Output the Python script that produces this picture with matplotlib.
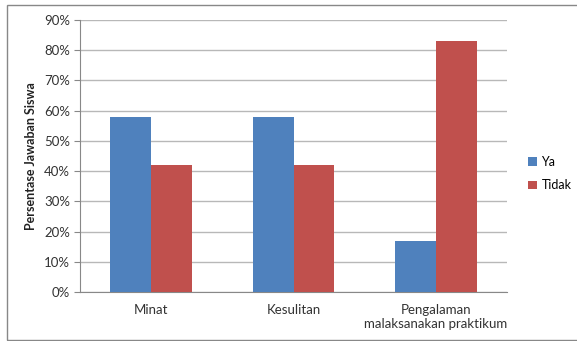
import matplotlib
matplotlib.use("Agg")
import matplotlib.pyplot as plt
from matplotlib.patches import Rectangle
from matplotlib.ticker import PercentFormatter
import numpy as np

categories = ["Minat", "Kesulitan", "Pengalaman\nmalaksanakan praktikum"]
ya = [58, 58, 17]
tidak = [42, 42, 83]
series_names = ["Ya", "Tidak"]
yticks = list(range(0, 91, 10))

plt.rcParams['font.family'] = ['Lato', 'DejaVu Sans']

fig = plt.figure(figsize=(5.77, 3.41), dpi=100)
fig.patches.append(Rectangle((7/577, 1/341), 600/577, 335/341, transform=fig.transFigure,
                             fill=False, edgecolor="#888888", linewidth=1.0))
ax = fig.add_axes([80/577, 49/341, 427/577, 272/341])

x = np.arange(len(categories))
w = 0.288
ax.bar(x - w/2, ya, w, color="#4F81BD", label=series_names[0], zorder=3)
ax.bar(x + w/2, tidak, w, color="#C0504D", label=series_names[1], zorder=3)

ax.set_xlim(-0.5, 2.5)
ax.set_ylim(0, 90)
ax.set_yticks(yticks)
ax.yaxis.set_major_formatter(PercentFormatter(decimals=0))
ax.set_xticks(x)
ax.set_xticklabels(categories, fontsize=9.5, color="#333333", linespacing=1.2)
ax.tick_params(axis='x', length=0, pad=9)
ax.tick_params(axis='y', labelsize=9.5, colors="#333333", length=4, color="#888888", pad=3)
ax.grid(axis='y', color="#b8b8b8", linewidth=1.0, zorder=0)
for s in ["top", "right"]:
    ax.spines[s].set_visible(False)
ax.spines["left"].set_color("#888888")
ax.spines["bottom"].set_color("#888888")
ax.set_ylabel("Persentase Jawaban Siswa", fontsize=9, fontweight="bold", color="#222222", labelpad=5)

ax.legend(loc="center left", bbox_to_anchor=(1.05, 0.435), frameon=False, fontsize=9,
          handlelength=0.7, handleheight=0.7, handletextpad=0.35, labelspacing=0.9,
          borderaxespad=0, borderpad=0)

fig.savefig("out.png", dpi=100)
